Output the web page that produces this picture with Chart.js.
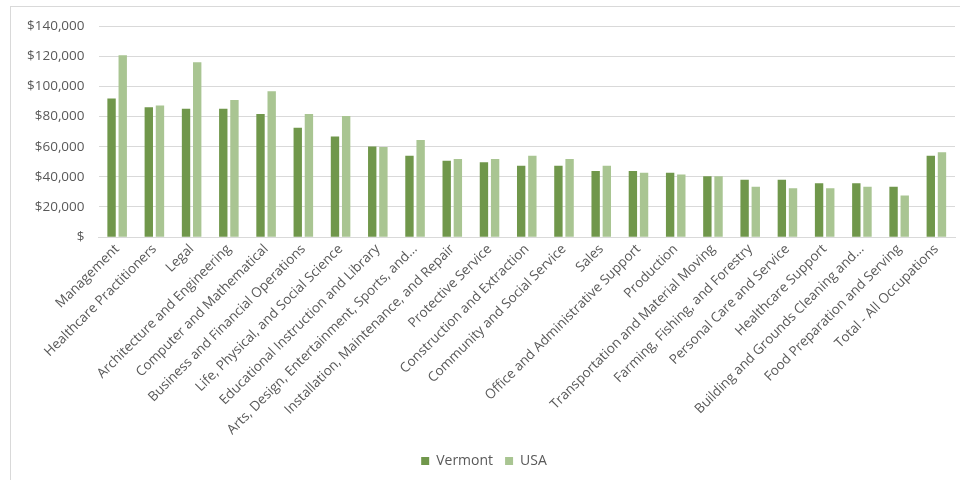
<!DOCTYPE html>
<html>
<head>
<meta charset="utf-8">
<script src="https://cdn.jsdelivr.net/npm/chart.js@4"></script>
<style>
html,body{margin:0;padding:0;background:#fff;width:960px;height:480px;overflow:hidden;}
#box{position:absolute;left:10px;top:6px;width:960px;height:480px;border:1px solid #d9d9d9;box-sizing:border-box;}
#wrap{position:absolute;left:0;top:-3px;width:948px;height:476px;}
</style>
</head>
<body>
<div id="box"><div id="wrap"><canvas id="c"></canvas></div></div>
<script>
const categories = [
  "Management","Healthcare Practitioners","Legal","Architecture and Engineering",
  "Computer and Mathematical","Business and Financial Operations","Life, Physical, and Social Science",
  "Educational Instruction and Library","Arts, Design, Entertainment, Sports, and...",
  "Installation, Maintenance, and Repair","Protective Service","Construction and Extraction",
  "Community and Social Service","Sales","Office and Administrative Support","Production",
  "Transportation and Material Moving","Farming, Fishing, and Forestry","Personal Care and Service",
  "Healthcare Support","Building and Grounds Cleaning and...","Food Preparation and Serving",
  "Total - All Occupations"
];
const vermont = [92000,86200,85100,85100,81700,72600,66800,60100,54000,50700,49600,47300,47300,43800,43800,42700,40400,38000,38000,35700,35700,33500,54000];
const usa = [120600,87300,116100,90900,96700,81700,80400,59800,64500,51800,51800,54000,51800,47300,42700,41500,40400,33500,32400,32400,33500,27700,56300];
const yTicks = [0,20000,40000,60000,80000,100000,120000,140000];

const font = "'Open Sans', sans-serif";
const grey = '#595959';
new Chart(document.getElementById('c'), {
  type: 'bar',
  data: {
    labels: categories,
    datasets: [
      {label:'Vermont', data: vermont, backgroundColor:'#70974b', categoryPercentage:0.6, barPercentage:0.75},
      {label:'USA', data: usa, backgroundColor:'#a9c592', categoryPercentage:0.6, barPercentage:0.75}
    ]
  },
  options: {
    responsive:true, maintainAspectRatio:false, animation:false,
    layout:{padding:{left:2,right:4,top:4,bottom:2}},
    plugins:{
      legend:{position:'bottom', labels:{boxWidth:8,boxHeight:8,padding:12,color:grey,font:{family:font,size:14}}},
      tooltip:{enabled:false}
    },
    scales:{
      x:{
        grid:{display:false, drawTicks:false},
        border:{color:'#d9d9d9'},
        ticks:{color:grey, font:{family:font,size:13.5}, maxRotation:45, minRotation:45, autoSkip:false, padding:4}
      },
      y:{
        min:0, max:140000,
        afterBuildTicks: (s)=>{ s.ticks = yTicks.map(v=>({value:v})); },
        grid:{color:'#d9d9d9', drawTicks:false},
        border:{display:false},
        ticks:{color:grey, font:{family:font,size:13.5}, padding:14,
          callback:(v)=> v===0 ? '$' : '$' + v.toLocaleString('en-US')}
      }
    }
  }
});
</script>
</body>
</html>
